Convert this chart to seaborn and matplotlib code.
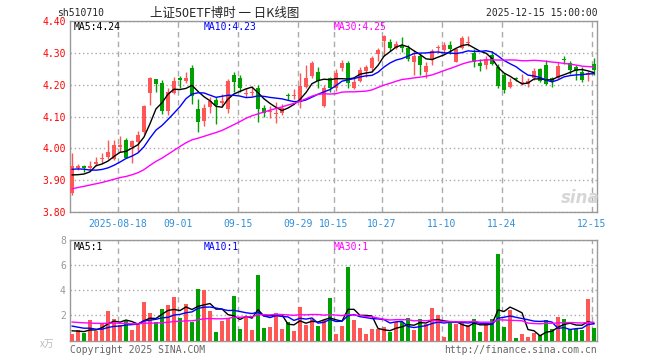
import matplotlib
matplotlib.use("Agg")
import matplotlib.pyplot as plt
import seaborn as sns
import numpy as np
import pandas as pd

# daily k-line, 2025-08-06 .. 2025-12-15
opens = [3.86, 3.94, 3.944, 3.94, 3.95, 3.968, 3.973, 3.966, 4.006, 4.026,
         4.006, 4.02, 4.052, 4.175, 4.216, 4.206, 4.118, 4.175, 4.222, 4.212,
         4.252, 4.123, 4.085, 4.13, 4.152, 4.143, 4.122, 4.229, 4.222, 4.17,
         4.175, 4.188, 4.128, 4.115, 4.108, 4.112, 4.166, 4.165, 4.146, 4.193,
         4.227, 4.239, 4.133, 4.221, 4.188, 4.252, 4.267, 4.19, 4.211, 4.241,
         4.252, 4.297, 4.335, 4.334, 4.316, 4.323, 4.314, 4.272, 4.289, 4.239,
         4.278, 4.315, 4.309, 4.324, 4.272, 4.316, 4.33, 4.299, 4.268, 4.26,
         4.293, 4.255, 4.231, 4.193, 4.219, 4.204, 4.203, 4.219, 4.248, 4.26,
         4.221, 4.221, 4.278, 4.268, 4.255, 4.239, 4.229, 4.263]
highs = [3.985, 3.952, 3.948, 3.962, 3.972, 3.987, 4.026, 4.027, 4.04, 4.033,
         4.026, 4.055, 4.136, 4.224, 4.218, 4.213, 4.19, 4.225, 4.227, 4.24,
         4.262, 4.156, 4.14, 4.16, 4.16, 4.17, 4.218, 4.24, 4.23, 4.19,
         4.195, 4.2, 4.135, 4.132, 4.145, 4.14, 4.175, 4.185, 4.235, 4.26,
         4.275, 4.255, 4.198, 4.224, 4.25, 4.278, 4.273, 4.219, 4.255, 4.262,
         4.29, 4.316, 4.356, 4.344, 4.335, 4.35, 4.324, 4.309, 4.296, 4.27,
         4.311, 4.324, 4.334, 4.337, 4.316, 4.353, 4.352, 4.311, 4.28, 4.289,
         4.306, 4.265, 4.237, 4.219, 4.224, 4.234, 4.219, 4.252, 4.252, 4.278,
         4.224, 4.27, 4.29, 4.275, 4.26, 4.255, 4.241, 4.282]
lows = [3.855, 3.932, 3.925, 3.928, 3.944, 3.955, 3.968, 3.963, 3.99, 3.969,
        3.953, 3.99, 4.045, 4.135, 4.178, 4.109, 4.105, 4.17, 4.19, 4.205,
        4.14, 4.052, 4.07, 4.11, 4.075, 4.13, 4.11, 4.177, 4.177, 4.16,
        4.165, 4.083, 4.1, 4.095, 4.08, 4.105, 4.152, 4.155, 4.126, 4.19,
        4.219, 4.19, 4.131, 4.177, 4.18, 4.241, 4.188, 4.185, 4.208, 4.224,
        4.24, 4.275, 4.29, 4.306, 4.31, 4.303, 4.275, 4.229, 4.231, 4.221,
        4.26, 4.3, 4.299, 4.296, 4.27, 4.311, 4.32, 4.255, 4.244, 4.25,
        4.26, 4.19, 4.175, 4.188, 4.21, 4.198, 4.193, 4.213, 4.208, 4.2,
        4.193, 4.217, 4.265, 4.234, 4.213, 4.208, 4.21, 4.231]
closes = [3.945, 3.944, 3.94, 3.945, 3.956, 3.971, 3.99, 4.012, 4.01, 3.971,
          4.022, 4.043, 4.132, 4.219, 4.203, 4.117, 4.178, 4.21, 4.214, 4.221,
          4.165, 4.083, 4.127, 4.15, 4.135, 4.15, 4.21, 4.208, 4.19, 4.174,
          4.178, 4.123, 4.112, 4.118, 4.112, 4.128, 4.163, 4.168, 4.196, 4.22,
          4.267, 4.211, 4.19, 4.188, 4.236, 4.267, 4.205, 4.208, 4.246, 4.255,
          4.282, 4.309, 4.352, 4.316, 4.327, 4.316, 4.28, 4.289, 4.26, 4.258,
          4.304, 4.318, 4.324, 4.311, 4.311, 4.347, 4.334, 4.272, 4.258, 4.28,
          4.265, 4.196, 4.182, 4.208, 4.218, 4.206, 4.211, 4.244, 4.211, 4.201,
          4.208, 4.257, 4.277, 4.247, 4.241, 4.213, 4.237, 4.247]
volumes = [0.48, 0.8, 0.59, 1.6, 0.72, 1.39, 2.32, 1.68, 1.2, 1.55,
           0.8, 1.28, 3.04, 2.2, 1.44, 2.48, 2.8, 3.44, 1.76, 2.88,
           1.44, 4.08, 4.0, 2.32, 0.64, 1.52, 1.81, 3.52, 0.88, 1.89,
           0.8, 5.2, 0.96, 1.04, 2.16, 0.88, 1.44, 0.72, 2.64, 1.2,
           1.68, 1.12, 1.6, 3.36, 0.48, 1.12, 5.84, 1.6, 0.96, 0.48,
           0.88, 0.88, 1.04, 0.64, 1.44, 1.44, 1.76, 0.8, 1.68, 1.28,
           2.56, 2.0, 0.3, 1.36, 1.28, 1.44, 1.2, 1.68, 0.64, 1.28,
           1.68, 6.9, 1.04, 2.4, 0.2, 0.48, 0.24, 0.56, 0.4, 1.6,
           0.88, 1.84, 1.68, 0.88, 0.88, 0.8, 3.28, 0.96]

# sessions before the window, only needed to seed the moving averages
prior_closes = [3.82, 3.83, 3.82, 3.84, 3.85, 3.84, 3.86, 3.85, 3.87, 3.86,
                3.85, 3.84, 3.82, 3.83, 3.81, 3.82, 3.84, 3.85, 3.87, 3.89,
                3.93, 3.95, 3.97, 3.96, 3.95, 3.94, 3.93, 3.91, 3.86]
prior_volumes = [1.8, 1.5, 2.1, 1.4, 1.6, 1.9, 1.3, 1.7, 2.0, 1.5,
                 1.6, 1.4, 1.8, 1.7, 1.3, 1.9, 1.5, 1.6, 1.4, 1.6,
                 1.7, 1.4, 1.6, 1.5, 1.45, 0.9, 0.8, 0.95, 0.72]

tick_dates = ["2025-08-18", "2025-09-01", "2025-09-15", "2025-09-29", "2025-10-15",
              "2025-10-27", "2025-11-10", "2025-11-24", "2025-12-15"]
tick_labels = ["2025-08-18", "09-01", "09-15", "09-29", "10-15",
               "10-27", "11-10", "11-24", "12-15"]

RED = "#ff5656"
GREEN = "#00a000"
GRID = "#aaaaaa"
MONO = "DejaVu Sans Mono"

days = pd.bdate_range("2025-08-06", "2025-12-15")
days = days[(days < "2025-10-01") | (days > "2025-10-08")]
df = pd.DataFrame({"date": days, "open": opens, "high": highs, "low": lows,
                   "close": closes, "volume": volumes})
df["pos"] = np.arange(len(df))
df["up"] = df["close"] >= df["open"]
df["color"] = np.where(df["up"], RED, GREEN)

all_c = pd.Series(prior_closes + closes)
all_v = pd.Series(prior_volumes + volumes)
n0 = len(prior_closes)
for n in (5, 10, 30):
    df[f"ma{n}"] = all_c.rolling(n).mean().iloc[n0:].values
    df[f"vma{n}"] = all_v.rolling(n).mean().iloc[n0:].values

tick_pos = [df.index[df["date"] == pd.Timestamp(d)][0] - 0.33 for d in tick_dates]

sns.set_style("white")
plt.rcParams["font.family"] = [MONO, "Noto Sans CJK SC"]

W, H = 660, 360
fig = plt.figure(figsize=(6.6, 3.6), dpi=100)


def box(x0, y0, x1, y1):
    return [x0 / W, 1 - y1 / H, (x1 - x0) / W, (y1 - y0) / H]


ax = fig.add_axes(box(70, 20.7, 597, 212.3))
axv = fig.add_axes(box(70, 240, 597, 340.5))

# candles
body = (df["close"] - df["open"]).abs().clip(lower=0.003)
base = df[["open", "close"]].min(axis=1)
ax.vlines(df["pos"], df["low"], df["high"], colors=df["color"], lw=1, zorder=3)
ax.bar(df["pos"], body, bottom=base, width=0.8, color=df["color"], linewidth=0, zorder=4)

for col, c in (("ma5", "black"), ("ma10", "#0000ff"), ("ma30", "#ff00ff")):
    sns.lineplot(data=df, x="pos", y=col, color=c, lw=1, ax=ax, zorder=5)

# volume
sns.barplot(data=df, x="pos", y="volume", hue="up", palette={True: RED, False: GREEN},
            native_scale=True, dodge=False, width=0.8, saturation=1, linewidth=0,
            legend=False, ax=axv, zorder=3)
for col, c in (("vma5", "black"), ("vma10", "#0000ff"), ("vma30", "#ff00ff")):
    sns.lineplot(data=df, x="pos", y=col, color=c, lw=1, ax=axv, zorder=5)

for a in (ax, axv):
    a.set_xlim(-0.33, 87.5)
    a.set_xticks(tick_pos)
    a.grid(axis="x", color=GRID, linestyle=(0, (4, 3)), lw=1)
    a.grid(axis="y", color=GRID, linestyle=(0, (1, 2)), lw=1)
    a.tick_params(length=0, pad=3)
    a.set_xlabel("")
    a.set_ylabel("")
    for s in a.spines.values():
        s.set_color("#999999")
        s.set_linewidth(1)

ax.set_ylim(3.8, 4.4)
ax.set_yticks([3.8, 3.9, 4.0, 4.1, 4.2, 4.3, 4.4])
ax.set_yticklabels([f"{v:.2f}" for v in ax.get_yticks()], color="#ff0000", fontsize=7)
ax.set_xticklabels(tick_labels, color="#2f8fd8", fontsize=7)
ax.tick_params(axis="x", pad=5)

axv.set_ylim(0, 8)
axv.set_yticks([2, 4, 6, 8])
axv.set_yticklabels(["2", "4", "6", "8"], color="#999999", fontsize=7)
axv.set_xticklabels([])

last = df.iloc[-1]


def ftxt(x, y, s, **kw):
    kw.setdefault("fontsize", 7)
    kw.setdefault("va", "center")
    fig.text(x / W, 1 - y / H, s, **kw)


ftxt(57, 13, "sh510710")
ftxt(150, 13, "上证50ETF博时 一 日K线图", fontsize=9,
     family=["Noto Sans CJK SC", MONO])
ftxt(598, 13, "2025-12-15 15:00:00", ha="right")

ftxt(74, 27, f"MA5:{last['ma5']:.2f}", color="black")
ftxt(204, 27, f"MA10:{last['ma10']:.2f}", color="#0000ff")
ftxt(334, 27, f"MA30:{last['ma30']:.2f}", color="#ff00ff")

ftxt(74, 247, f"MA5:{last['vma5']:.0f}", color="black")
ftxt(204, 247, f"MA10:{last['vma10']:.0f}", color="#0000ff")
ftxt(334, 247, f"MA30:{last['vma30']:.0f}", color="#ff00ff")

ftxt(40, 344, "x万", color="#bbbbbb", fontsize=7, family=["Noto Sans CJK SC", MONO])
ftxt(70, 350, "Copyright 2025 SINA.COM", color="#666666")
ftxt(597, 350, "http://finance.sina.com.cn", ha="right", color="#666666")

ftxt(580, 198, "sina", ha="center", fontsize=12, color="#d6d6d6",
     style="italic", weight="bold", family="DejaVu Sans")

fig.savefig("out.png", dpi=100, facecolor="white")
